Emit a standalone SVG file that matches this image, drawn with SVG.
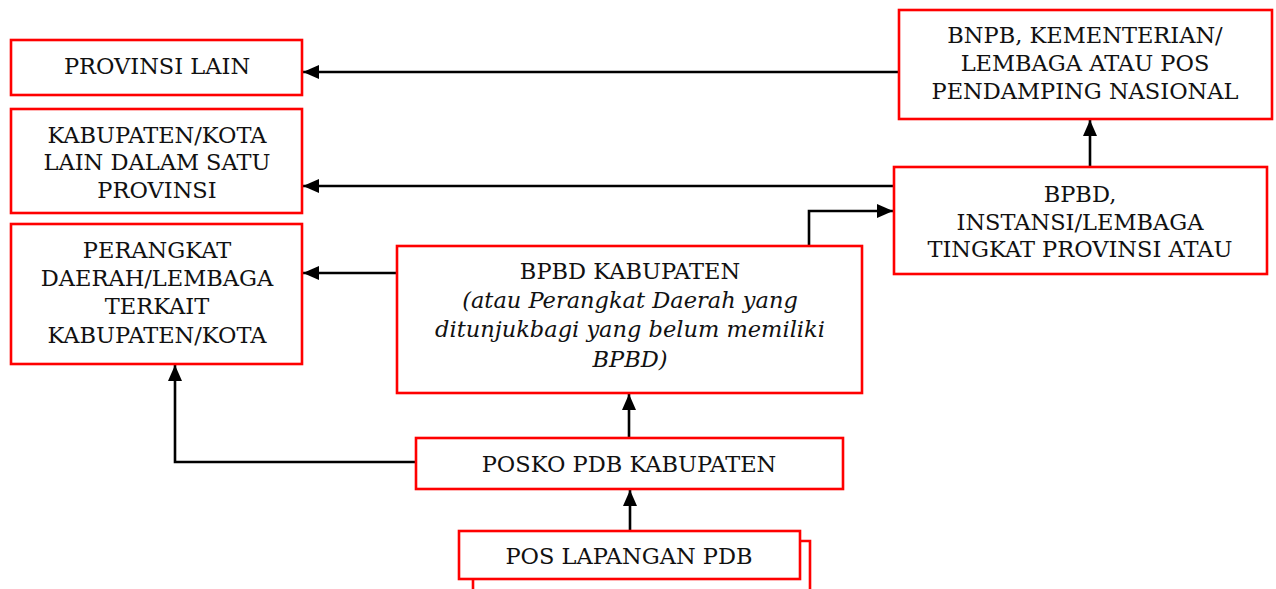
<svg xmlns="http://www.w3.org/2000/svg" width="1276" height="589" viewBox="0 0 1276 589">
<style>
.box{fill:#fff;stroke:#ff0000;stroke-width:2.6}
.t{font-family:"DejaVu Serif","Liberation Serif",serif;font-size:22.5px;fill:#111;text-anchor:middle}
.i{font-style:italic}
.c{fill:none;stroke:#000;stroke-width:2.6}
</style>
<defs>
<marker id="ah" viewBox="0 0 16 14" refX="16" refY="7" markerWidth="16" markerHeight="14" markerUnits="userSpaceOnUse" orient="auto">
<path d="M0,0 L16,7 L0,14 Z" fill="#000"/>
</marker>
</defs>
<rect width="1276" height="589" fill="#fff"/>
<g id="connectors">
<path class="c" d="M899,72 H303" marker-end="url(#ah)"/>
<path class="c" d="M894,186 H303" marker-end="url(#ah)"/>
<path class="c" d="M397,273 H303" marker-end="url(#ah)"/>
<path class="c" d="M1090,167 V120" marker-end="url(#ah)"/>
<path class="c" d="M809,246 V211 H893" marker-end="url(#ah)"/>
<path class="c" d="M629,438 V394" marker-end="url(#ah)"/>
<path class="c" d="M416,462 H175 V365" marker-end="url(#ah)"/>
<path class="c" d="M630,531 V490" marker-end="url(#ah)"/>
</g>
<g id="provinsi-lain">
<rect class="box" x="11" y="40" width="291" height="55"/>
<text class="t" x="157" y="74">PROVINSI LAIN</text>
</g>
<g id="kabkota-lain">
<rect class="box" x="11" y="109" width="291" height="104"/>
<text class="t" x="157" y="143">KABUPATEN/KOTA</text>
<text class="t" x="157" y="170">LAIN DALAM SATU</text>
<text class="t" x="157" y="198">PROVINSI</text>
</g>
<g id="perangkat-daerah">
<rect class="box" x="11" y="224" width="291" height="140"/>
<text class="t" x="157" y="258">PERANGKAT</text>
<text class="t" x="157" y="286">DAERAH/LEMBAGA</text>
<text class="t" x="157" y="314">TERKAIT</text>
<text class="t" x="157" y="343">KABUPATEN/KOTA</text>
</g>
<g id="bnpb">
<rect class="box" x="899" y="10" width="373" height="109"/>
<text class="t" x="1085" y="43">BNPB, KEMENTERIAN/</text>
<text class="t" x="1085" y="71">LEMBAGA ATAU POS</text>
<text class="t" x="1085" y="99">PENDAMPING NASIONAL</text>
</g>
<g id="bpbd-provinsi">
<rect class="box" x="894" y="167" width="373" height="107"/>
<text class="t" x="1080" y="202">BPBD,</text>
<text class="t" x="1080" y="230">INSTANSI/LEMBAGA</text>
<text class="t" x="1080" y="257">TINGKAT PROVINSI ATAU</text>
</g>
<g id="bpbd-kabupaten">
<rect class="box" x="397" y="246" width="465" height="147"/>
<text class="t" x="630" y="279">BPBD KABUPATEN</text>
<text class="t i" x="630" y="308">(atau Perangkat Daerah yang</text>
<text class="t i" x="630" y="337">ditunjukbagi yang belum memiliki</text>
<text class="t i" x="630" y="367">BPBD)</text>
</g>
<g id="posko-pdb">
<rect class="box" x="416" y="438" width="427" height="51"/>
<text class="t" x="629" y="472">POSKO PDB KABUPATEN</text>
</g>
<g id="pos-lapangan">
<path d="M800,541 H810 V589 M473,579 V589" fill="none" stroke="#ff0000" stroke-width="2.6"/>
<rect class="box" x="459" y="531" width="341" height="48"/>
<text class="t" x="629" y="564">POS LAPANGAN PDB</text>
</g>
</svg>
